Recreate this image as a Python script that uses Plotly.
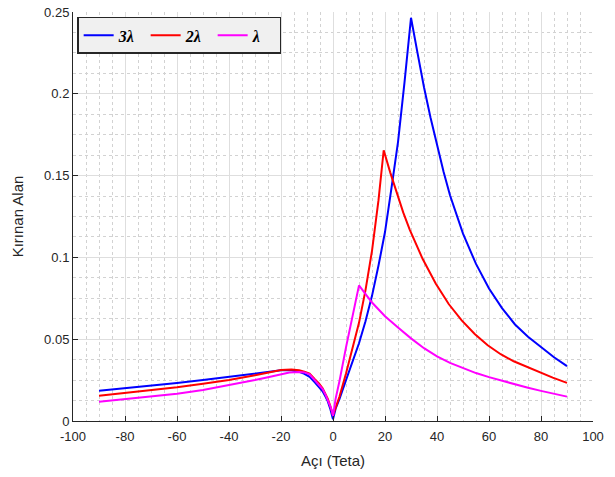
import plotly.graph_objects as go

# --- data ---
x_3l = [-90, -80, -70, -60, -50, -40, -30, -25, -20, -16, -13, -11, -9, -7, -5.4, -4, -2.8, -2, -1, -0.5, 0,
        1, 2.5, 5, 7.5, 10, 12.5, 15, 17.5, 20, 22.5, 25, 27.5, 30,
        32.5, 35, 37.5, 40, 42.5, 45, 47.5, 50, 55, 60, 65, 70, 75, 80, 85, 90]
y_3l = [0.0185, 0.0200, 0.0216, 0.0232, 0.0250, 0.0269, 0.0290, 0.0302, 0.0310, 0.0310, 0.0300, 0.0288, 0.0270, 0.0236, 0.0208, 0.0182, 0.0146, 0.0120, 0.0072, 0.0045, 0.0010,
        0.0075, 0.0135, 0.0250, 0.0360, 0.0475, 0.0610, 0.0765, 0.0950, 0.1155, 0.1425, 0.1705, 0.2070, 0.2465,
        0.2250, 0.2040, 0.1855, 0.1680, 0.1525, 0.1380, 0.1255, 0.1145, 0.0960, 0.0810, 0.0690, 0.0590, 0.0515, 0.0450, 0.0390, 0.0335]

x_2l = [-90, -80, -70, -60, -50, -40, -30, -25, -20, -16, -13, -11, -9, -7, -5.4, -4, -2.8, -2, -1, -0.5, 0,
        1, 2.5, 5, 7.5, 10, 12.5, 15, 17.5, 19.5,
        22, 24.5, 27, 29.5, 32, 34.5, 39.5, 44.5, 49.5, 54.5, 59.5, 64.5, 69.5, 74.5, 79.5, 84.5, 90]
y_2l = [0.0154, 0.0171, 0.0188, 0.0206, 0.0228, 0.0251, 0.0280, 0.0298, 0.0312, 0.0315, 0.0310, 0.0302, 0.0290, 0.0256, 0.0230, 0.0200, 0.0162, 0.0135, 0.0090, 0.0060, 0.0035,
        0.0080, 0.0150, 0.0290, 0.0440, 0.0600, 0.0800, 0.1040, 0.1350, 0.1655,
        0.1520, 0.1390, 0.1275, 0.1170, 0.1075, 0.0990, 0.0840, 0.0715, 0.0615, 0.0532, 0.0463, 0.0408, 0.0365, 0.0330, 0.0298, 0.0265, 0.0233]

x_1l = [-90, -80, -70, -60, -50, -40, -30, -25, -20, -16.8, -13, -11, -9, -7, -5.4, -4, -2.8, -2, -1, -0.5, 0,
        1, 2.5, 5, 7.5, 10,
        15, 20, 25, 30, 35, 40, 45, 50, 55, 60, 65, 70, 75, 80, 85, 90]
y_1l = [0.0117, 0.0134, 0.0150, 0.0167, 0.0190, 0.0218, 0.0250, 0.0268, 0.0287, 0.0297, 0.0300, 0.0297, 0.0285, 0.0250, 0.0220, 0.0195, 0.0158, 0.0130, 0.0088, 0.0065, 0.0030,
        0.0135, 0.0245, 0.0450, 0.0640, 0.0829,
        0.0724, 0.0640, 0.0572, 0.0505, 0.0445, 0.0395, 0.0355, 0.0322, 0.0293, 0.0268, 0.0245, 0.0223, 0.0203, 0.0184, 0.0166, 0.0149]

series_names = ["3λ", "2λ", "λ"]
series_colors = ["#0000ff", "#ff0000", "#ff00ff"]

x_ticks = [-100, -80, -60, -40, -20, 0, 20, 40, 60, 80, 100]
x_tick_text = ["-100", "-80", "-60", "-40", "-20", "0", "20", "40", "60", "80", "100"]
y_ticks = [0, 0.05, 0.1, 0.15, 0.2, 0.25]
y_tick_text = ["0", "0.05", "0.1", "0.15", "0.2", "0.25"]

fig = go.Figure()
for xs, ys, name, col in zip([x_3l, x_2l, x_1l], [y_3l, y_2l, y_1l], series_names, series_colors):
    fig.add_trace(go.Scatter(x=xs, y=ys, mode="lines", name=name,
                             line=dict(color=col, width=2)))

axis_col = "#262626"
fig.update_layout(
    width=615, height=477,
    margin=dict(l=73, r=22, t=12, b=56, autoexpand=False),
    paper_bgcolor="white", plot_bgcolor="white",
    font=dict(family="Liberation Sans, Arial, sans-serif", size=13, color=axis_col),
    showlegend=True,
    legend=dict(orientation="h", x=0.008, y=0.988, xanchor="left", yanchor="top",
                bgcolor="#f0f0f0", bordercolor=axis_col, borderwidth=1.5,
                font=dict(family="Liberation Serif, Times New Roman, serif", size=16,
                          color="black", weight="bold", style="italic"),
                entrywidth=22, entrywidthmode="pixels", tracegroupgap=0),
)
fig.update_xaxes(
    range=[-100, 100], tickvals=x_ticks, ticktext=x_tick_text, ticks="inside", ticklen=5, tickcolor=axis_col,
    showline=True, linecolor=axis_col, linewidth=1, mirror=False, zeroline=False, automargin=False,
    ticklabelstandoff=3,
    showgrid=True, gridcolor="#dedede", gridwidth=1,
    minor=dict(dtick=5, tick0=0, showgrid=True, gridcolor="#d2d2d2", griddash="dot", gridwidth=1, ticks=""),
    title=dict(text="Açı (Teta)", font=dict(size=15, color=axis_col), standoff=12),
)
fig.update_yaxes(
    range=[0, 0.25], tickvals=y_ticks, ticktext=y_tick_text, ticks="inside", ticklen=5, tickcolor=axis_col,
    showline=True, linecolor=axis_col, linewidth=1, mirror=False, zeroline=False, automargin=False,
    showgrid=True, gridcolor="#dedede", gridwidth=1,
    minor=dict(dtick=0.0125, tick0=0, showgrid=True, gridcolor="#d2d2d2", griddash="dot", gridwidth=1, ticks=""),
    title=dict(text="Kırınan Alan", font=dict(size=15, color=axis_col), standoff=16),
)

fig.write_html("out.html", config={"displayModeBar": False},
               post_script="document.body.style.margin='0px';")
